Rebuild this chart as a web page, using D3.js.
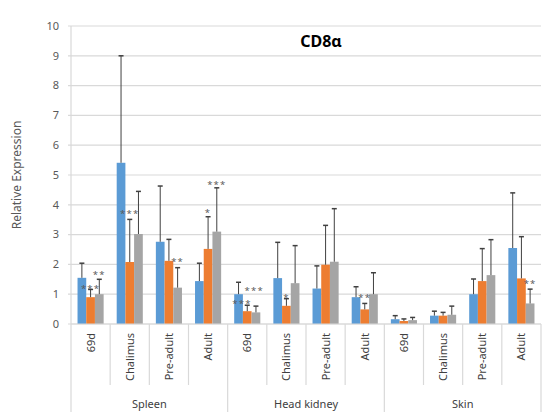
<!DOCTYPE html>
<html>
<head>
<meta charset="utf-8">
<script src="https://cdn.jsdelivr.net/npm/d3@7"></script>
<style>
  body { margin: 0; background: #fff; }
  text { font-family: "Noto Sans", "Open Sans", sans-serif; }
</style>
</head>
<body>
<svg id="vis" width="547" height="415"></svg>
<script>
// data
const tissues = ["Spleen", "Head kidney", "Skin"];
const stages = ["69d", "Chalimus", "Pre-adult", "Adult"];
const series = ["s1", "s2", "s3"];
const colors = ["#5b9bd5", "#ed7d31", "#a5a5a5"];

// means, per tissue x stage, one array per series
const blueVals   = [1.55, 5.41, 2.76, 1.44,  1.00, 1.54, 1.19, 0.90,  0.16, 0.28, 1.00, 2.55];
const orangeVals = [0.90, 2.08, 2.12, 2.52,  0.43, 0.61, 1.99, 0.49,  0.10, 0.28, 1.44, 1.53];
const grayVals   = [1.00, 3.02, 1.22, 3.10,  0.39, 1.37, 2.09, 1.00,  0.13, 0.31, 1.64, 0.69];
// upper error bar (SD)
const blueErr    = [0.49, 3.59, 1.87, 0.60,  0.40, 1.20, 0.76, 0.35,  0.12, 0.15, 0.51, 1.85];
const orangeErr  = [0.26, 1.43, 0.72, 1.08,  0.20, 0.24, 1.32, 0.20,  0.07, 0.11, 1.09, 1.40];
const grayErr    = [0.50, 1.43, 0.67, 1.47,  0.21, 1.26, 1.78, 0.72,  0.09, 0.29, 1.19, 0.48];

// significance marks: category index, series slot (can sit between bars), label, height (data units)
const stars = [
  { cat: 0, s: 1, label: "***", at: 1.3 },
  { cat: 0, s: 2, label: "**", at: 1.78 },
  { cat: 1, s: 1, label: "***", at: 3.8 },
  { cat: 2, s: 2, label: "**", at: 2.2 },
  { cat: 3, s: 1, label: "*", at: 3.85 },
  { cat: 3, s: 2, label: "***", at: 4.8 },
  { cat: 4, s: 0.4, label: "***", at: 0.8 },
  { cat: 4, s: 1.8, label: "***", at: 1.24 },
  { cat: 5, s: 1, label: "*", at: 1.0 },
  { cat: 7, s: 1, label: "**", at: 1.0 },
  { cat: 11, s: 2, label: "**", at: 1.47 }
];

const yTicks = d3.range(0, 11);

const vals = [blueVals, orangeVals, grayVals];
const errs = [blueErr, orangeErr, grayErr];

const svg = d3.select("#vis");

let plotLeft = 71, plotRight = 541, plotTop = 26, plotBottom = 324;

const cats = d3.range(tissues.length * stages.length);

const x = d3.scaleBand().domain(cats).range([plotLeft, plotRight]);
const xs = d3.scaleBand().domain(series).range([0, x.bandwidth()]).paddingOuter(0.75);
const y = d3.scaleLinear().domain([0, 10]).range([plotBottom, plotTop]);

// gridlines
svg.append("g")
  .selectAll("line")
  .data(yTicks)
  .join("line")
    .attr("x1", plotLeft - 3)
    .attr("x2", plotRight)
    .attr("y1", d => y(d))
    .attr("y2", d => y(d))
    .attr("stroke", "#d9d9d9")
    .attr("stroke-width", 1.2);

// y axis line
svg.append("line")
  .attr("x1", plotLeft).attr("x2", plotLeft)
  .attr("y1", plotTop).attr("y2", plotBottom)
  .attr("stroke", "#d9d9d9").attr("stroke-width", 1.2);

// y tick labels
svg.append("g")
  .selectAll("text")
  .data(yTicks)
  .join("text")
    .attr("x", plotLeft - 12)
    .attr("y", d => y(d))
    .attr("dy", "0.35em")
    .attr("text-anchor", "end")
    .attr("font-size", 11)
    .attr("fill", "#595959")
    .text(d => d);

// y title
svg.append("text")
  .attr("transform", `translate(21,${(plotTop + plotBottom) / 2}) rotate(-90)`)
  .attr("text-anchor", "middle")
  .attr("font-size", 12)
  .attr("fill", "#595959")
  .text("Relative Expression");

// bars
const barG = svg.append("g");
series.forEach((s, i) => {
  barG.append("g")
    .selectAll("rect")
    .data(cats)
    .join("rect")
      .attr("x", c => x(c) + xs(s))
      .attr("y", c => y(vals[i][c]))
      .attr("width", xs.bandwidth())
      .attr("height", c => y(0) - y(vals[i][c]))
      .attr("fill", colors[i]);
});

// error bars (upper only)
const errG = svg.append("g").attr("stroke", "#404040").attr("stroke-width", 1);
series.forEach((s, i) => {
  cats.forEach(c => {
    const cx = x(c) + xs(s) + xs.bandwidth() / 2;
    const top1 = y(vals[i][c] + errs[i][c]);
    errG.append("line")
      .attr("x1", cx).attr("x2", cx)
      .attr("y1", y(vals[i][c])).attr("y2", top1);
    errG.append("line")
      .attr("x1", cx - 2.5).attr("x2", cx + 2.5)
      .attr("y1", top1).attr("y2", top1)
      .attr("stroke-width", 1.5);
  });
});

// stars
svg.append("g")
  .selectAll("text")
  .data(stars)
  .join("text")
    .attr("x", d => x(d.cat) + xs(series[0]) + (d.s + 0.5) * xs.step())
    .attr("y", d => y(d.at))
    .attr("dy", "0.7em")
    .attr("text-anchor", "middle")
    .attr("font-size", 9.5)
    .attr("letter-spacing", 1.2)
    .attr("fill", "#595959")
    .text(d => d.label);

// x axis baseline
svg.append("line")
  .attr("x1", plotLeft).attr("x2", plotRight)
  .attr("y1", plotBottom).attr("y2", plotBottom)
  .attr("stroke", "#d9d9d9").attr("stroke-width", 1.2);

// category separators
const seps = d3.range(cats.length + 1);
svg.append("g")
  .selectAll("line")
  .data(seps)
  .join("line")
    .attr("x1", d => plotLeft + d * x.step())
    .attr("x2", d => plotLeft + d * x.step())
    .attr("y1", plotBottom)
    .attr("y2", d => d % stages.length === 0 ? 412 : 385)
    .attr("stroke", "#d9d9d9")
    .attr("stroke-width", 1.2);

// stage labels
svg.append("g")
  .selectAll("text")
  .data(cats)
  .join("text")
    .attr("transform", c => `translate(${x(c) + x.bandwidth() / 2 + 4},333) rotate(-90)`)
    .attr("text-anchor", "end")
    .attr("font-size", 11)
    .attr("fill", "#404040")
    .text(c => stages[c % stages.length]);

// tissue labels
svg.append("g")
  .selectAll("text")
  .data(tissues)
  .join("text")
    .attr("x", (t, i) => plotLeft + (i + 0.5) * stages.length * x.step())
    .attr("y", 408)
    .attr("text-anchor", "middle")
    .attr("font-size", 11)
    .attr("fill", "#404040")
    .text(t => t);

// title
svg.append("text")
  .attr("x", 321)
  .attr("y", 47)
  .attr("text-anchor", "middle")
  .attr("font-size", 16)
  .attr("font-weight", "bold")
  .attr("fill", "#000")
  .text("CD8α");
</script>
</body>
</html>
